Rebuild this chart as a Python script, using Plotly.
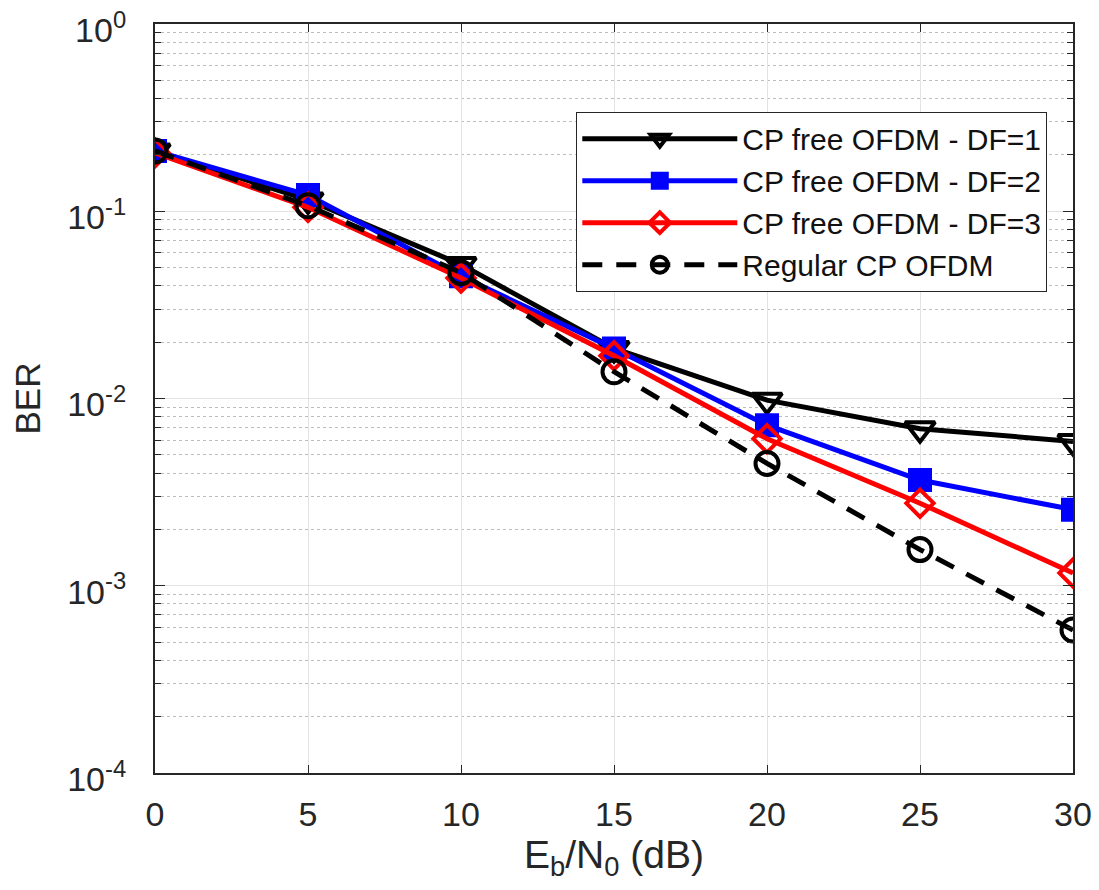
import plotly.graph_objects as go

# Eb/N0 (dB)
snr_db = [0, 5, 10, 15, 20, 25, 30]

# BER curves
ber_df1 = [0.210, 0.115, 0.052, 0.0185, 0.0098, 0.0069, 0.0059]
ber_df2 = [0.210, 0.122, 0.045, 0.0185, 0.0072, 0.00367, 0.00255]
ber_df3 = [0.205, 0.105, 0.044, 0.0169, 0.0061, 0.00276, 0.00117]
ber_cp = [0.210, 0.107, 0.047, 0.0139, 0.0045, 0.00156, 0.00058]

y_major = [1e-4, 1e-3, 1e-2, 1e-1, 1]
y_major_text = ["10<sup>-4</sup>", "10<sup>-3</sup>", "10<sup>-2</sup>",
                "10<sup>-1</sup>", "10<sup>0</sup>"]
y_minor = [m * 10.0 ** e for e in range(-4, 0) for m in range(2, 10)]

FONT = "Liberation Sans, Arial, sans-serif"
TXT = "#262626"

fig = go.Figure()

fig.add_trace(go.Scatter(
    x=snr_db, y=ber_df1, name="CP free OFDM - DF=1", mode="lines+markers",
    line=dict(color="black", width=5),
    marker=dict(symbol="triangle-down-open", size=26, color="black",
                line=dict(color="black", width=4)),
))
fig.add_trace(go.Scatter(
    x=snr_db, y=ber_df2, name="CP free OFDM - DF=2", mode="lines+markers",
    line=dict(color="#0000ff", width=5),
    marker=dict(symbol="square", size=22, color="#0000ff",
                line=dict(color="#0000ff", width=2)),
))
fig.add_trace(go.Scatter(
    x=snr_db, y=ber_df3, name="CP free OFDM - DF=3", mode="lines+markers",
    line=dict(color="#ff0000", width=5),
    marker=dict(symbol="diamond-open", size=21, color="#ff0000",
                line=dict(color="#ff0000", width=4)),
))
fig.add_trace(go.Scatter(
    x=snr_db, y=ber_cp, name="Regular CP OFDM", mode="lines+markers",
    line=dict(color="black", width=5, dash="20px,14px"),
    marker=dict(symbol="circle-open", size=23, color="black",
                line=dict(color="black", width=4)),
))

fig.update_xaxes(
    range=[0, 30], tickvals=snr_db, ticks="inside", ticklen=8,
    tickcolor="#262626", showline=True, linecolor="#262626", linewidth=2,
    mirror="ticks", showgrid=True, gridcolor="#e3e3e3", gridwidth=1,
    zeroline=False, automargin=False,
    ticklabelstandoff=10, ticklabeloverflow="allow",
    tickfont=dict(family="Liberation Sans Narrow, " + FONT, size=34, color=TXT),
    title=dict(text="E<sub>b</sub>/N<sub>0</sub> (dB)",
               font=dict(family=FONT, size=39, color=TXT), standoff=10),
)
fig.update_yaxes(
    type="log", range=[-4, 0], tickvals=y_major, ticktext=y_major_text,
    ticks="inside", ticklen=10, tickcolor="#262626", showline=True,
    linecolor="#262626", linewidth=2, mirror="ticks",
    showgrid=True, gridcolor="#e3e3e3", gridwidth=1, zeroline=False,
    automargin=False, ticklabelstandoff=20, ticklabelshift=6,
    ticklabeloverflow="allow",
    tickfont=dict(family=FONT, size=34, color=TXT),
    minor=dict(tickvals=y_minor, ticks="inside", ticklen=6,
               tickcolor="#262626", showgrid=True, gridcolor="#bdbdbd",
               griddash="dot", gridwidth=1),
    title=dict(text="BER", font=dict(family=FONT, size=35, color=TXT), standoff=22),
)

# the page body adds an 8px margin, so the figure is kept 16px smaller
fig.update_layout(
    width=1083, height=874,
    paper_bgcolor="white", plot_bgcolor="white",
    margin=dict(l=147, r=18, t=16, b=109),
    font=dict(family=FONT, color=TXT),
    legend=dict(
        x=0.972, y=0.883, xanchor="right", yanchor="top",
        bgcolor="white", bordercolor="#262626", borderwidth=1,
        font=dict(family=FONT, size=30, color="#111111"),
        tracegroupgap=0, itemwidth=155,
    ),
)

fig.write_html("out.html")
